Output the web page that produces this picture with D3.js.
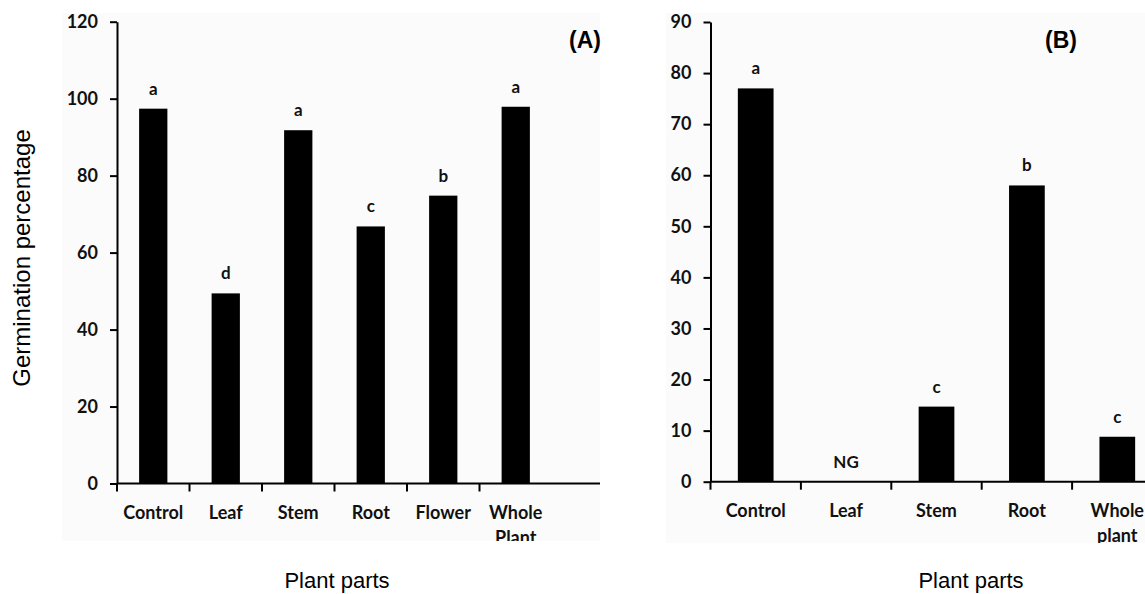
<!DOCTYPE html>
<html>
<head>
<meta charset="utf-8">
<script src="https://cdn.jsdelivr.net/npm/d3@7"></script>
<style>
  body { margin: 0; background: #fff; }
  .tick text, .cat, .sig { font-family: Lato, "Open Sans", sans-serif; font-weight: bold; fill: #111; }
  .title { font-family: "Liberation Sans", Arial, sans-serif; fill: #000; }
</style>
</head>
<body>
<svg width="1145" height="594"></svg>
<script>
// Panel A: extracts of plant parts
var partsA = ["Control", "Leaf", "Stem", "Root", "Flower", "Whole Plant"];
var germA = [97.4, 49.4, 91.8, 66.8, 74.8, 97.9];
var lettersA = ["a", "d", "a", "c", "b", "a"];
var ticksA = [0, 20, 40, 60, 80, 100, 120];

// Panel B
var partsB = ["Control", "Leaf", "Stem", "Root", "Whole plant"];
var germB = [77, 0, 14.7, 58, 8.8];
var lettersB = ["a", "NG", "c", "b", "c"];
var ticksB = [0, 10, 20, 30, 40, 50, 60, 70, 80, 90];

var svg = d3.select("svg");

// little helper that draws one panel
function panel(opt) {
  var g = svg.append("g");

  var clipId = "clip" + opt.tag;
  svg.append("clipPath").attr("id", clipId)
    .append("rect")
    .attr("x", opt.clip[0]).attr("y", 0)
    .attr("width", opt.clip[1] - opt.clip[0]).attr("height", opt.clipBottom);

  var inner = g.append("g").attr("clip-path", "url(#" + clipId + ")");

  inner.append("rect")
    .attr("x", opt.bg[0]).attr("y", 13)
    .attr("width", opt.bg[1] - opt.bg[0]).attr("height", opt.clipBottom - 13)
    .attr("fill", "#fbfbfb");

  var x = d3.scaleBand()
    .domain(opt.cats)
    .range([opt.x0, opt.x0 + opt.cats.length * opt.step])
    .paddingInner(opt.pad).paddingOuter(opt.pad / 2);

  var y = d3.scaleLinear().domain(opt.yDomain).range(opt.yRange);

  var data = opt.cats.map(function(c, i) {
    return {cat: c, v: opt.values[i], lab: opt.letters[i]};
  });

  inner.selectAll("rect.bar").data(data).enter()
    .append("rect").attr("class", "bar")
    .attr("x", function(d) { return x(d.cat); })
    .attr("width", x.bandwidth())
    .attr("y", function(d) { return y(d.v); })
    .attr("height", function(d) { return y(0) - y(d.v); })
    .attr("fill", "#000");

  inner.selectAll("text.sig").data(data).enter()
    .append("text").attr("class", "sig")
    .attr("x", function(d) { return x(d.cat) + x.bandwidth() / 2; })
    .attr("y", function(d) { return y(d.v) - 14; })
    .attr("text-anchor", "middle")
    .style("font-size", "17px")
    .text(function(d) { return d.lab; });

  // x axis line and ticks on category boundaries
  inner.append("line")
    .attr("x1", opt.x0).attr("x2", opt.xEnd)
    .attr("y1", y(0)).attr("y2", y(0))
    .attr("stroke", "#000").attr("stroke-width", 2);

  var half = (x.step() - x.bandwidth()) / 2;
  inner.selectAll("line.xt").data(opt.cats).enter()
    .append("line").attr("class", "xt")
    .attr("x1", function(d) { return x(d) - half; })
    .attr("x2", function(d) { return x(d) - half; })
    .attr("y1", y(0)).attr("y2", y(0) + 8)
    .attr("stroke", "#000").attr("stroke-width", 2);

  var lab = inner.selectAll("text.cat").data(opt.cats).enter()
    .append("text").attr("class", "cat")
    .attr("text-anchor", "middle")
    .attr("x", function(d) { return x(d) + x.bandwidth() / 2; })
    .attr("y", y(0) + 35)
    .style("font-size", "18px");
  lab.each(function(d) {
    var words = d.split(" ");
    var t = d3.select(this);
    words.forEach(function(w, i) {
      t.append("tspan")
        .attr("x", x(d) + x.bandwidth() / 2)
        .attr("dy", i == 0 ? 0 : 25)
        .text(w);
    });
  });

  // y axis
  var ya = g.append("g")
    .attr("transform", "translate(" + opt.x0 + ",0)")
    .call(d3.axisLeft(y).tickValues(opt.ticks).tickSize(7).tickSizeOuter(0).tickPadding(12));
  ya.select(".domain").attr("stroke", "#000").attr("stroke-width", 2);
  ya.selectAll(".tick line").attr("stroke", "#000").attr("stroke-width", 2);
  ya.selectAll(".tick text").style("font-size", "18px");

  g.append("text").attr("class", "title")
    .attr("x", opt.tagX).attr("y", 48)
    .style("font-size", "23px").style("font-weight", "bold")
    .text("(" + opt.tag + ")");

  g.append("text").attr("class", "title")
    .attr("x", opt.titleX).attr("y", 588)
    .attr("text-anchor", "middle")
    .style("font-size", "22px")
    .text("Plant parts");

  return g;
}

panel({
  tag: "A", cats: partsA, values: germA, letters: lettersA, ticks: ticksA,
  x0: 117, step: 72.5, pad: 0.61, xEnd: 600,
  yDomain: [0, 120], yRange: [483.5, 21.7],
  clip: [0, 600], bg: [62, 600], clipBottom: 541,
  tagX: 569, titleX: 337
});

panel({
  tag: "B", cats: partsB, values: germB, letters: lettersB, ticks: ticksB,
  x0: 710.5, step: 90.4, pad: 0.605, xEnd: 1145,
  yDomain: [0, 90], yRange: [481.7, 22],
  clip: [600, 1145], bg: [666, 1145], clipBottom: 543,
  tagX: 1045, titleX: 971
});

// y axis title, only on the left panel
svg.append("text").attr("class", "title")
  .attr("transform", "translate(30,258) rotate(-90)")
  .attr("text-anchor", "middle")
  .style("font-size", "24px")
  .text("Germination percentage");
</script>
</body>
</html>
